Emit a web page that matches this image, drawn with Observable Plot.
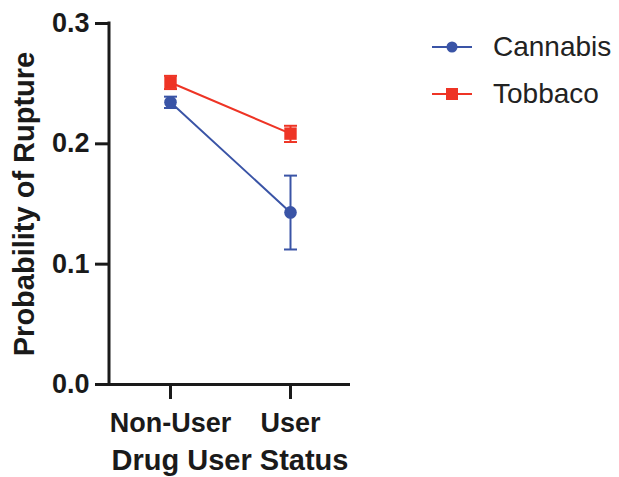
<!DOCTYPE html>
<html>
<head>
<meta charset="utf-8">
<script src="https://cdn.jsdelivr.net/npm/d3@7"></script>
<script src="https://cdn.jsdelivr.net/npm/@observablehq/plot@0.6"></script>
<style>
  html, body { margin: 0; padding: 0; background: #fff; }
  #wrap { position: relative; width: 619px; height: 477px; }
  #legend { position: absolute; left: 432px; top: 23px; font-family: "Liberation Sans", Arial, sans-serif; font-size: 28px; color: #222; }
  .item { display: flex; align-items: center; height: 47px; }
  .item svg { margin-right: 21px; }
</style>
</head>
<body>
<div id="wrap"></div>
<script>
// Data
const groups = ["Non-User", "User"];
const series = ["Cannabis", "Tobbaco"];
const cannabisMean = [0.2345, 0.1430];
const cannabisLow  = [0.2298, 0.1122];
const cannabisHigh = [0.2392, 0.1736];
const tobaccoMean  = [0.2510, 0.2085];
const tobaccoLow   = [0.2455, 0.2015];
const tobaccoHigh  = [0.2565, 0.2150];
const yTicks = [0, 0.1, 0.2, 0.3];
const colors = ["#3A54A6", "#EE3425"];
const symbols = ["circle", "square"];

const rows = [];
groups.forEach((g, i) => {
  rows.push({group: g, series: series[0], mean: cannabisMean[i], low: cannabisLow[i], high: cannabisHigh[i]});
  rows.push({group: g, series: series[1], mean: tobaccoMean[i], low: tobaccoLow[i], high: tobaccoHigh[i]});
});

const capSymbol = {
  draw(ctx, size) {
    const w = Math.sqrt(size / Math.PI);
    ctx.moveTo(-w, 0);
    ctx.lineTo(w, 0);
  }
};

const leftAxisLine = (index, scales, values, dims) => {
  const line = document.createElementNS("http://www.w3.org/2000/svg", "line");
  line.setAttribute("x1", dims.marginLeft);
  line.setAttribute("x2", dims.marginLeft);
  line.setAttribute("y1", scales.y(0.3) - 1.5);
  line.setAttribute("y2", scales.y(0) + 1.5);
  line.setAttribute("stroke", "#1a1a1a");
  line.setAttribute("stroke-width", 3);
  return line;
};

const color = {domain: series, range: colors};
const bySeries = s => rows.filter(r => r.series === s);

const plot = Plot.plot({
  width: 619,
  height: 477,
  marginLeft: 109,
  marginRight: 269,
  marginTop: 23,
  marginBottom: 93,
  style: {fontFamily: "Liberation Sans, Arial, sans-serif", color: "#1a1a1a", background: "#fff"},
  x: {type: "point", domain: groups, padding: 0.5, label: null},
  y: {domain: [0, 0.3], label: null},
  color: color,
  marks: [
    Plot.axisY({ticks: yTicks, tickFormat: d3.format(".1f"), tickSize: 14, tickPadding: 6, strokeWidth: 3, fontSize: 27, fontWeight: "bold", label: null}),
    Plot.axisX({tickSize: 15, tickPadding: 13, strokeWidth: 3, fontSize: 27, fontWeight: "bold", label: null}),
    Plot.ruleY([0], {strokeWidth: 3, stroke: "#1a1a1a"}),
    leftAxisLine,
    Plot.text(["Drug User Status"], {frameAnchor: "bottom", dy: 85, fontSize: 29, fontWeight: "bold", fill: "#1a1a1a"}),
    Plot.text(["Probability of Rupture"], {frameAnchor: "left", textAnchor: "middle", dx: -85, rotate: -90, fontSize: 29, fontWeight: "bold", fill: "#1a1a1a"}),
    ...series.map((s, k) => Plot.lineY(bySeries(s), {x: "group", y: "mean", stroke: colors[k], strokeWidth: 2})),
    ...series.map((s, k) => Plot.ruleX(bySeries(s), {x: "group", y1: "low", y2: "high", stroke: colors[k], strokeWidth: 2})),
    ...series.map((s, k) => Plot.dot(bySeries(s), {x: "group", y: "low", symbol: capSymbol, r: 6.5, stroke: colors[k], strokeWidth: 2})),
    ...series.map((s, k) => Plot.dot(bySeries(s), {x: "group", y: "high", symbol: capSymbol, r: 6.5, stroke: colors[k], strokeWidth: 2})),
    Plot.dot(bySeries(series[0]), {x: "group", y: "mean", symbol: "circle", r: 6.3, fill: colors[0]}),
    Plot.dot(bySeries(series[1]), {x: "group", y: "mean", symbol: "square", r: 7, fill: colors[1]})
  ]
});

const wrap = document.getElementById("wrap");
wrap.appendChild(plot);

const legend = document.createElement("div");
legend.id = "legend";
series.forEach((s, k) => {
  const item = document.createElement("div");
  item.className = "item";
  const sw = d3.create("svg").attr("width", 40).attr("height", 16);
  sw.append("line").attr("x1", 0).attr("x2", 40).attr("y1", 8).attr("y2", 8).attr("stroke", colors[k]).attr("stroke-width", 2);
  if (symbols[k] === "circle") sw.append("circle").attr("cx", 20).attr("cy", 8).attr("r", 5.5).attr("fill", colors[k]);
  else sw.append("rect").attr("x", 14).attr("y", 2).attr("width", 12).attr("height", 12).attr("fill", colors[k]);
  item.appendChild(sw.node());
  const label = document.createElement("span");
  label.textContent = s;
  item.appendChild(label);
  legend.appendChild(item);
});
wrap.appendChild(legend);
</script>
</body>
</html>
